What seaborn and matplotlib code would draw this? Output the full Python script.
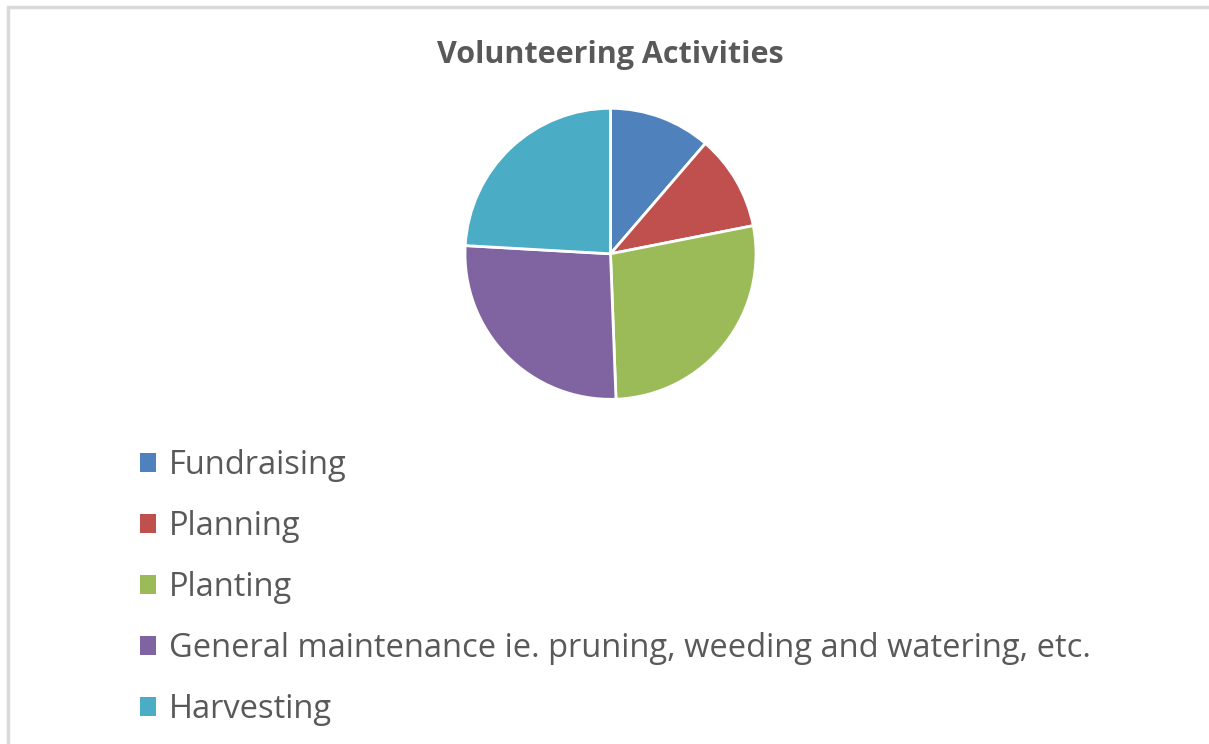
import matplotlib
matplotlib.use("Agg")
import matplotlib.pyplot as plt
import seaborn as sns
from matplotlib.patches import Rectangle, Patch

activities = ["Fundraising", "Planning", "Planting",
              "General maintenance ie. pruning, weeding and watering, etc.",
              "Harvesting"]
shares = [11.3, 10.6, 27.5, 26.5, 24.1]
colours = ["#4F81BD", "#C0504D", "#9BBB59", "#8064A2", "#4BACC6"]

sns.set_theme(style="white")
plt.rcParams["font.family"] = ["Open Sans", "DejaVu Sans"]
pal = sns.color_palette(colours)

W, H = 1209, 744
fig = plt.figure(figsize=(W / 100, H / 100), dpi=100)
fig.patch.set_facecolor("white")

# light grey chart-area border (right and bottom edges are cut off)
fig.patches.append(Rectangle((8 / W, -0.05), 1.1, 1.05 - 7 / H,
                             transform=fig.transFigure, fill=False,
                             edgecolor="#D9D9D9", linewidth=2.5))

cx, cy, r = 610.5, 253.8, 145.5
ax = fig.add_axes([(cx - r) / W, (H - cy - r) / H, 2 * r / W, 2 * r / H])
wedges, _ = ax.pie(shares, colors=pal, startangle=90, counterclock=False,
                   wedgeprops=dict(edgecolor="white", linewidth=2))
ax.set_xlim(-1, 1)
ax.set_ylim(-1, 1)
ax.set_aspect("equal")
ax.axis("off")

fig.text(610 / W, 1 - 55 / H, "Volunteering Activities", ha="center",
         va="center", fontsize=22, fontweight="bold", color="#595959")

handles = [Patch(facecolor=c, edgecolor="none") for c in pal]
leg = fig.legend(handles, activities, loc="upper left",
                 bbox_to_anchor=(140 / W, 1 - 449 / H), frameon=False,
                 fontsize=23.5, handlelength=0.49, handleheight=0.49,
                 handletextpad=0.4, labelspacing=0.86, borderpad=0,
                 borderaxespad=0)
for t in leg.get_texts():
    t.set_color("#595959")

fig.savefig("out.png", dpi=100)
